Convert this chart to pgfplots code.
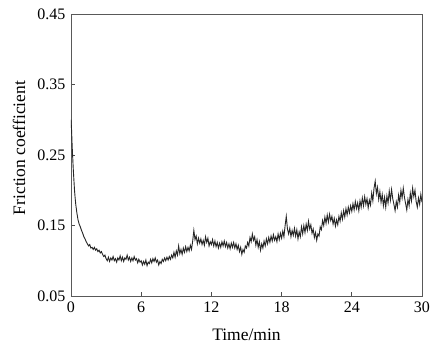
\documentclass[border=0pt]{standalone}
\usepackage{pgfplots}
\pgfplotsset{compat=1.18}
\usepackage{fontspec}
\setmainfont{Liberation Serif}
\begin{document}
\begin{tikzpicture}
\useasboundingbox (-71pt,-49pt) rectangle (369pt,296pt);
\begin{axis}[
  at={(0pt,0pt)}, anchor=south west,
  width=351pt, height=282pt, scale only axis,
  xmin=0, xmax=30, ymin=0.05, ymax=0.45,
  xtick={0,6,12,18,24,30},
  ytick={0.05,0.15,0.25,0.35,0.45},
  yticklabels={0.05,0.15,0.25,0.35,0.45},
  tick align=inside, tick pos=left,
  major tick length=4pt,
  axis line style={black!65, line width=0.9pt},
  tick style={black!70, line width=0.7pt},
  /pgf/number format/assume math mode=true,
  ticklabel style={font=\fontsize{16}{18}\selectfont},
  xticklabel style={yshift=-2pt},
  yticklabel style={xshift=-2pt},
  label style={font=\fontsize{17.5}{20}\selectfont},
  xlabel={Time/min}, ylabel={Friction coefficient},
  xlabel style={at={(axis description cs:0.5,-0.136)}, anchor=center},
  ylabel style={at={(axis description cs:-0.148,0.525)}, anchor=center},
]
\addplot[black!85, line width=0.9pt] coordinates {
(0.00,0.300)(0.05,0.285)(0.10,0.262)(0.15,0.245)(0.20,0.228)(0.25,0.214)(0.30,0.200)(0.35,0.190)(0.40,0.181)(0.50,0.168)
(0.60,0.158)(0.70,0.152)(0.80,0.148)(0.90,0.143)(1.00,0.139)(1.1,0.134)(1.2,0.131)(1.3,0.127)(1.4,0.124)(1.5,0.121)
(1.6,0.123)(1.7,0.118)(1.8,0.119)(1.9,0.116)(2.0,0.119)(2.1,0.115)(2.2,0.117)(2.3,0.113)(2.4,0.115)(2.5,0.111)
(2.6,0.113)(2.7,0.109)(2.8,0.106)(2.9,0.108)(3.0,0.103)
(3.1,0.100)(3.2,0.105)(3.3,0.099)(3.4,0.104)(3.5,0.101)(3.6,0.106)(3.7,0.100)(3.8,0.103)(3.9,0.098)(4.0,0.104)
(4.1,0.101)(4.2,0.107)(4.3,0.100)(4.4,0.105)(4.5,0.099)(4.6,0.104)(4.7,0.102)(4.8,0.108)(4.9,0.101)(5.0,0.105)
(5.1,0.099)(5.2,0.104)(5.3,0.100)(5.4,0.106)(5.5,0.101)(5.6,0.103)(5.7,0.097)(5.8,0.102)(5.9,0.098)(6.0,0.100)
(6.1,0.094)(6.2,0.099)(6.3,0.095)(6.4,0.101)(6.5,0.093)(6.6,0.098)(6.7,0.096)(6.8,0.102)(6.9,0.097)(7.0,0.103)
(7.1,0.099)(7.2,0.104)(7.3,0.098)(7.4,0.101)(7.5,0.094)(7.6,0.099)(7.7,0.096)(7.8,0.102)(7.9,0.099)(8.0,0.104)
(8.1,0.100)(8.2,0.105)(8.3,0.101)(8.4,0.106)(8.5,0.102)(8.6,0.108)(8.7,0.104)(8.8,0.112)(8.9,0.105)(9.0,0.114)
(9.1,0.108)(9.2,0.121)(9.3,0.110)(9.4,0.116)(9.5,0.109)(9.6,0.118)(9.7,0.112)(9.8,0.120)(9.9,0.113)(10.0,0.119)
(10.1,0.114)(10.2,0.122)(10.3,0.116)(10.4,0.128)(10.5,0.143)(10.6,0.130)(10.7,0.135)(10.8,0.124)(10.9,0.132)(11.0,0.125)
(11.1,0.131)(11.2,0.123)(11.3,0.129)(11.4,0.122)(11.5,0.134)(11.6,0.126)(11.7,0.132)(11.8,0.121)(11.9,0.127)(12.0,0.123)
(12.1,0.130)(12.2,0.121)(12.3,0.128)(12.4,0.120)(12.5,0.126)(12.6,0.118)(12.7,0.125)(12.8,0.119)(12.9,0.127)(13.0,0.121)
(13.1,0.128)(13.2,0.120)(13.3,0.126)(13.4,0.118)(13.5,0.124)(13.6,0.117)(13.7,0.125)(13.8,0.119)(13.9,0.126)(14.0,0.118)
(14.1,0.124)(14.2,0.116)(14.3,0.122)(14.4,0.113)(14.5,0.119)(14.6,0.109)(14.7,0.116)(14.8,0.112)(14.9,0.121)(15.0,0.118)
(15.1,0.126)(15.2,0.121)(15.3,0.133)(15.4,0.127)(15.5,0.138)(15.6,0.129)(15.7,0.134)(15.8,0.122)(15.9,0.130)(16.0,0.119)
(16.1,0.127)(16.2,0.115)(16.3,0.124)(16.4,0.118)(16.5,0.128)(16.6,0.121)(16.7,0.131)(16.8,0.124)(16.9,0.133)(17.0,0.126)
(17.1,0.135)(17.2,0.128)(17.3,0.137)(17.4,0.129)(17.5,0.134)(17.6,0.127)(17.7,0.138)(17.8,0.130)(17.9,0.139)(18.0,0.132)
(18.1,0.142)(18.2,0.134)(18.3,0.150)(18.4,0.163)(18.5,0.145)(18.6,0.138)(18.7,0.146)(18.8,0.134)(18.9,0.143)(19.0,0.136)
(19.1,0.146)(19.2,0.135)(19.3,0.144)(19.4,0.131)(19.5,0.141)(19.6,0.134)(19.7,0.148)(19.8,0.138)(19.9,0.150)(20.0,0.140)
(20.1,0.152)(20.2,0.143)(20.3,0.156)(20.4,0.145)(20.5,0.151)(20.6,0.139)(20.7,0.145)(20.8,0.133)(20.9,0.140)(21.0,0.129)
(21.1,0.138)(21.2,0.135)(21.3,0.148)(21.4,0.144)(21.5,0.157)(21.6,0.150)(21.7,0.162)(21.8,0.153)(21.9,0.165)(22.0,0.155)
(22.1,0.166)(22.2,0.157)(22.3,0.163)(22.4,0.152)(22.5,0.160)(22.6,0.149)(22.7,0.158)(22.8,0.151)(22.9,0.163)(23.0,0.156)
(23.1,0.168)(23.2,0.159)(23.3,0.171)(23.4,0.162)(23.5,0.174)(23.6,0.165)(23.7,0.176)(23.8,0.168)(23.9,0.178)(24.0,0.170)
(24.1,0.181)(24.2,0.172)(24.3,0.184)(24.4,0.174)(24.5,0.182)(24.6,0.171)(24.7,0.185)(24.8,0.176)(24.9,0.189)(25.0,0.178)
(25.1,0.191)(25.2,0.180)(25.3,0.188)(25.4,0.175)(25.5,0.186)(25.6,0.179)(25.7,0.196)(25.8,0.185)(25.9,0.203)(26.0,0.213)
(26.1,0.195)(26.2,0.204)(26.3,0.187)(26.4,0.198)(26.5,0.183)(26.6,0.194)(26.7,0.178)(26.8,0.190)(26.9,0.176)(27.0,0.192)
(27.1,0.182)(27.2,0.199)(27.3,0.186)(27.4,0.201)(27.5,0.188)(27.6,0.180)(27.7,0.171)(27.8,0.184)(27.9,0.176)(28.0,0.193)
(28.1,0.183)(28.2,0.200)(28.3,0.189)(28.4,0.203)(28.5,0.190)(28.6,0.181)(28.7,0.172)(28.8,0.187)(28.9,0.178)(29.0,0.196)
(29.1,0.185)(29.2,0.203)(29.3,0.191)(29.4,0.200)(29.5,0.184)(29.6,0.176)(29.7,0.189)(29.8,0.180)(29.9,0.194)(30.0,0.183)
};
\end{axis}
\end{tikzpicture}
\end{document}
